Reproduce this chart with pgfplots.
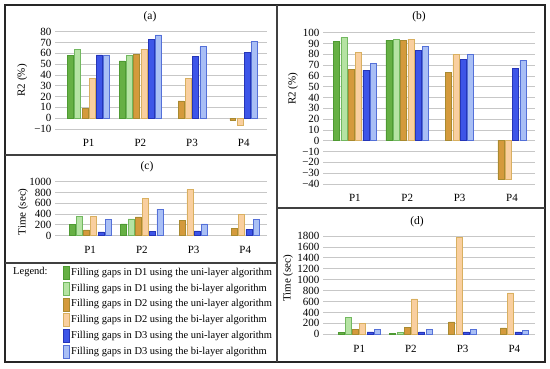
\documentclass[border=0pt]{standalone}
\usepackage{fontspec}
\setmainfont{Liberation Serif}
\usepackage{pgfplots}
\pgfplotsset{compat=1.18}
\definecolor{c1}{HTML}{66B044}\definecolor{d1}{HTML}{4E9A32}
\definecolor{c2}{HTML}{B5E3A3}\definecolor{d2}{HTML}{72B860}
\definecolor{c3}{HTML}{D49A3C}\definecolor{d3}{HTML}{A88A30}
\definecolor{c4}{HTML}{F9CF9F}\definecolor{d4}{HTML}{D9B060}
\definecolor{c5}{HTML}{3D55E8}\definecolor{d5}{HTML}{2535B8}
\definecolor{c6}{HTML}{A9BFF5}\definecolor{d6}{HTML}{5470D8}
\tikzset{
 s1/.style={fill=c1,draw=d1,line width=0.7pt},
 s2/.style={fill=c2,draw=d2,line width=0.7pt},
 s3/.style={fill=c3,draw=d3,line width=0.7pt},
 s4/.style={fill=c4,draw=d4,line width=0.7pt},
 s5/.style={fill=c5,draw=d5,line width=0.7pt},
 s6/.style={fill=c6,draw=d6,line width=0.7pt},
}
\pgfplotsset{
 panel/.style={
  scale only axis, width=212pt,
  axis line style={draw=none}, major tick length=0pt,
  ymajorgrids, grid style={draw=black!22, line width=0.7pt},
  xtick={0,1,2,3}, xticklabels={P1,P2,P3,P4},
  tick label style={font=\fontsize{11}{13}\selectfont},
  /pgf/number format/assume math mode=true,
  /pgf/number format/1000 sep={},
  xticklabel style={yshift=-7pt},
  ylabel style={font=\fontsize{11}{13}\selectfont, anchor=center},
  every axis plot/.append style={ybar, bar width=0.115, bar shift=0pt},
  xmin=-0.65, xmax=3.45,
 },
}
\begin{document}
\begin{tikzpicture}[x=1pt,y=1pt]
\path[use as bounding box] (0,0) rectangle (550,368);
% (a)
\begin{axis}[panel, at={(55pt,239pt)}, anchor=south west, height=97.3pt,
  ymin=-10, ymax=80, ytick={-10,0,10,20,30,40,50,60,70,80},
  yticklabels={−10,0,10,20,30,40,50,60,70,80}, ylabel={R2 (\%)},
  ylabel style={at={(axis description cs:-0.155,0.5)}}]
\addplot[s1] coordinates {(-0.35,58) (0.65,53)};
\addplot[s2] coordinates {(-0.21,64) (0.79,58)};
\addplot[s3] coordinates {(-0.07,9) (0.93,59) (1.79,16) (2.79,-2)};
\addplot[s4] coordinates {(0.07,37) (1.07,64) (1.93,37) (2.93,-6.5)};
\addplot[s5] coordinates {(0.21,58.5) (1.21,73) (2.07,57.5) (3.07,61)};
\addplot[s6] coordinates {(0.35,58.5) (1.35,77) (2.21,66) (3.21,71)};
\end{axis}
% (b)
\begin{axis}[panel, at={(323pt,184pt)}, anchor=south west, height=151.3pt,
  xmin=-0.61, xmax=3.44,
  ymin=-40, ymax=100, ytick={-40,-30,-20,-10,0,10,20,30,40,50,60,70,80,90,100},
  yticklabels={−40,−30,−20,−10,0,10,20,30,40,50,60,70,80,90,100},
  ylabel={R2 (\%)},
  ylabel style={at={(axis description cs:-0.142,0.63)}}]
\addplot[s1] coordinates {(-0.35,92.3) (0.65,93.2)};
\addplot[s2] coordinates {(-0.21,95.4) (0.79,94.1)};
\addplot[s3] coordinates {(-0.07,66.4) (0.93,93) (1.79,63) (2.79,-35.4)};
\addplot[s4] coordinates {(0.07,81.8) (1.07,94) (1.93,80) (2.93,-35.4)};
\addplot[s5] coordinates {(0.21,65.1) (1.21,83.3) (2.07,75) (3.07,66.7)};
\addplot[s6] coordinates {(0.35,71.3) (1.35,87) (2.21,80) (3.21,74.4)};
\end{axis}
% (c)
\begin{axis}[panel, at={(55pt,132.5pt)}, anchor=south west, height=53.8pt,
  xmin=-0.68, xmax=3.42,
  ymin=0, ymax=1000, ytick={0,200,...,1000}, ylabel={Time (sec)},
  ylabel style={at={(axis description cs:-0.151,0.44)}}]
\addplot[s1] coordinates {(-0.35,202) (0.65,215)};
\addplot[s2] coordinates {(-0.21,362) (0.79,307)};
\addplot[s3] coordinates {(-0.07,104) (0.93,344) (1.79,288) (2.79,129)};
\addplot[s4] coordinates {(0.07,362) (1.07,687) (1.93,853) (2.93,393)};
\addplot[s5] coordinates {(0.21,67) (1.21,74) (2.07,86) (3.07,110)};
\addplot[s6] coordinates {(0.35,294) (1.35,491) (2.21,215) (3.21,300)};
\end{axis}
% (d)
\begin{axis}[panel, at={(323pt,33.7pt)}, anchor=south west, height=98.3pt,
  xmin=-0.70, xmax=3.40,
  ymin=0, ymax=1800, ytick={0,200,...,1800}, ylabel={Time (sec)},
  ylabel style={at={(axis description cs:-0.165,0.57)}}]
\addplot[s1] coordinates {(-0.35,30) (0.65,18)};
\addplot[s2] coordinates {(-0.21,305) (0.79,37)};
\addplot[s3] coordinates {(-0.07,85) (0.93,122) (1.79,226) (2.79,116)};
\addplot[s4] coordinates {(0.07,195) (1.07,647) (1.93,1770) (2.93,757)};
\addplot[s5] coordinates {(0.21,43) (1.21,43) (2.07,43) (3.07,43)};
\addplot[s6] coordinates {(0.35,85) (1.35,92) (2.21,85) (3.21,67)};
\end{axis}
% frames
\draw[black!85, line width=1.4pt] (5,6) rectangle (545,363);
\draw[black!75, line width=1.2pt] (277,6) -- (277,363);
\draw[black!75, line width=1.2pt] (5,213) -- (277,213);
\draw[black!75, line width=1.2pt] (5,105) -- (277,105);
\draw[black!75, line width=1.2pt] (277,160) -- (545,160);
% titles
\begin{scope}[font=\fontsize{11.5}{13}\selectfont]
\node at (150,351) {(a)};
\node at (419,351) {(b)};
\node at (147,201) {(c)};
\node at (417,146) {(d)};
\end{scope}
% legend
\begin{scope}[font=\fontsize{10.5}{12}\selectfont]
\node[anchor=west, inner sep=0pt] at (13,96) {Legend:};
\foreach \i/\y/\t in {1/95/{Filling gaps in D1 using the uni-layer algorithm},
  2/79.3/{Filling gaps in D1 using the bi-layer algorithm},
  3/63.6/{Filling gaps in D2 using the uni-layer algorithm},
  4/47.9/{Filling gaps in D2 using the bi-layer algorithm},
  5/32.2/{Filling gaps in D3 using the uni-layer algorithm},
  6/16.5/{Filling gaps in D3 using the bi-layer algorithm}}{
  \path[s\i] (63,\y-6.5) rectangle (69,\y+6.5);
  \node[anchor=west, inner sep=0pt] at (71,\y) {\t};
}
\end{scope}
\end{tikzpicture}
\end{document}
